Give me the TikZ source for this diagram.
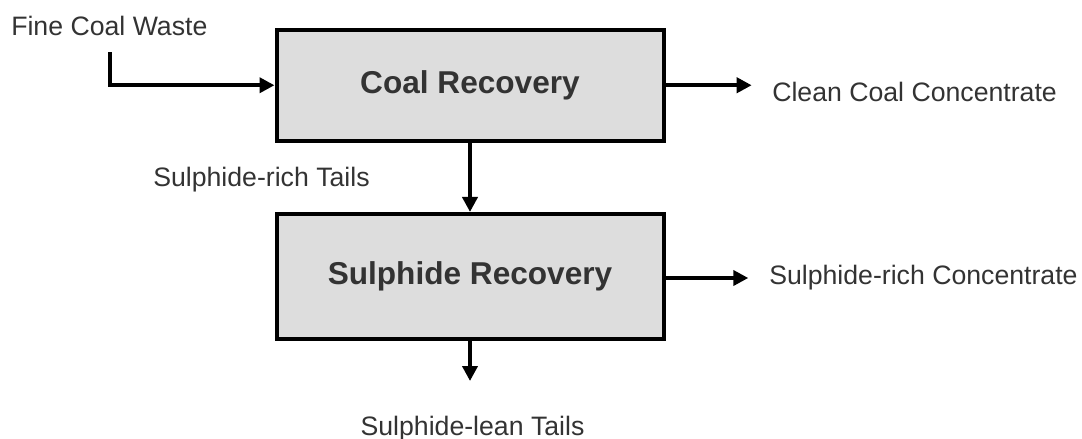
\documentclass[tikz,border=0pt]{standalone}
\usepackage{fontspec}
\setmainfont{Liberation Sans}
\usetikzlibrary{arrows.meta}
\definecolor{boxfill}{RGB}{221,221,221}
\definecolor{txt}{RGB}{51,51,51}
\tikzset{
  procbox/.style={draw=black, line width=3pt, fill=boxfill, inner sep=0pt,
    minimum width=290.25pt, font=\fontsize{23.7}{27}\selectfont\bfseries, text=txt},
  lbl/.style={inner sep=0pt, font=\fontsize{20}{23}\selectfont, text=txt},
  flow/.style={line width=3pt, -{Triangle[length=11.25pt,width=11.25pt]}}
}
\begin{document}
\begin{tikzpicture}[x=0.75pt,y=-0.75pt]
\useasboundingbox (0,0) rectangle (1082,439);
% boxes
\node[procbox, minimum height=82.9pt] (c1) at (470,85.25) {Coal Recovery};
\node[procbox, minimum height=93.4pt] (s1) at (470,276.25) {Sulphide Recovery};
% labels
\node[lbl, anchor=base west] (fcwl) at (11,35.7) {Fine Coal Waste};
\node[lbl, anchor=base west] (ccl) at (772,101) {Clean Coal Concentrate};
\node[lbl, anchor=base west] (srtl) at (153,186.7) {Sulphide-rich Tails};
\node[lbl, anchor=base west] (srcl) at (769,284) {Sulphide-rich Concentrate};
\node[lbl, anchor=base] (sltl) at (472.5,435) {Sulphide-lean Tails};
% free ends
\coordinate (fcw) at (110.3,52);
\coordinate (ccEnd) at (751.7,85.25);
\coordinate (srcEnd) at (748.3,278);
\coordinate (sltEnd) at (470,381);
% connectors
\draw[flow] (fcw) |- (c1.west);
\draw[flow] (c1.east) -- (ccEnd);
\draw[flow] (c1.south) -- (s1.north);
\draw[flow] (s1.east |- srcEnd) -- (srcEnd);
\draw[flow] (s1.south) -- (sltEnd);
\end{tikzpicture}
\end{document}
